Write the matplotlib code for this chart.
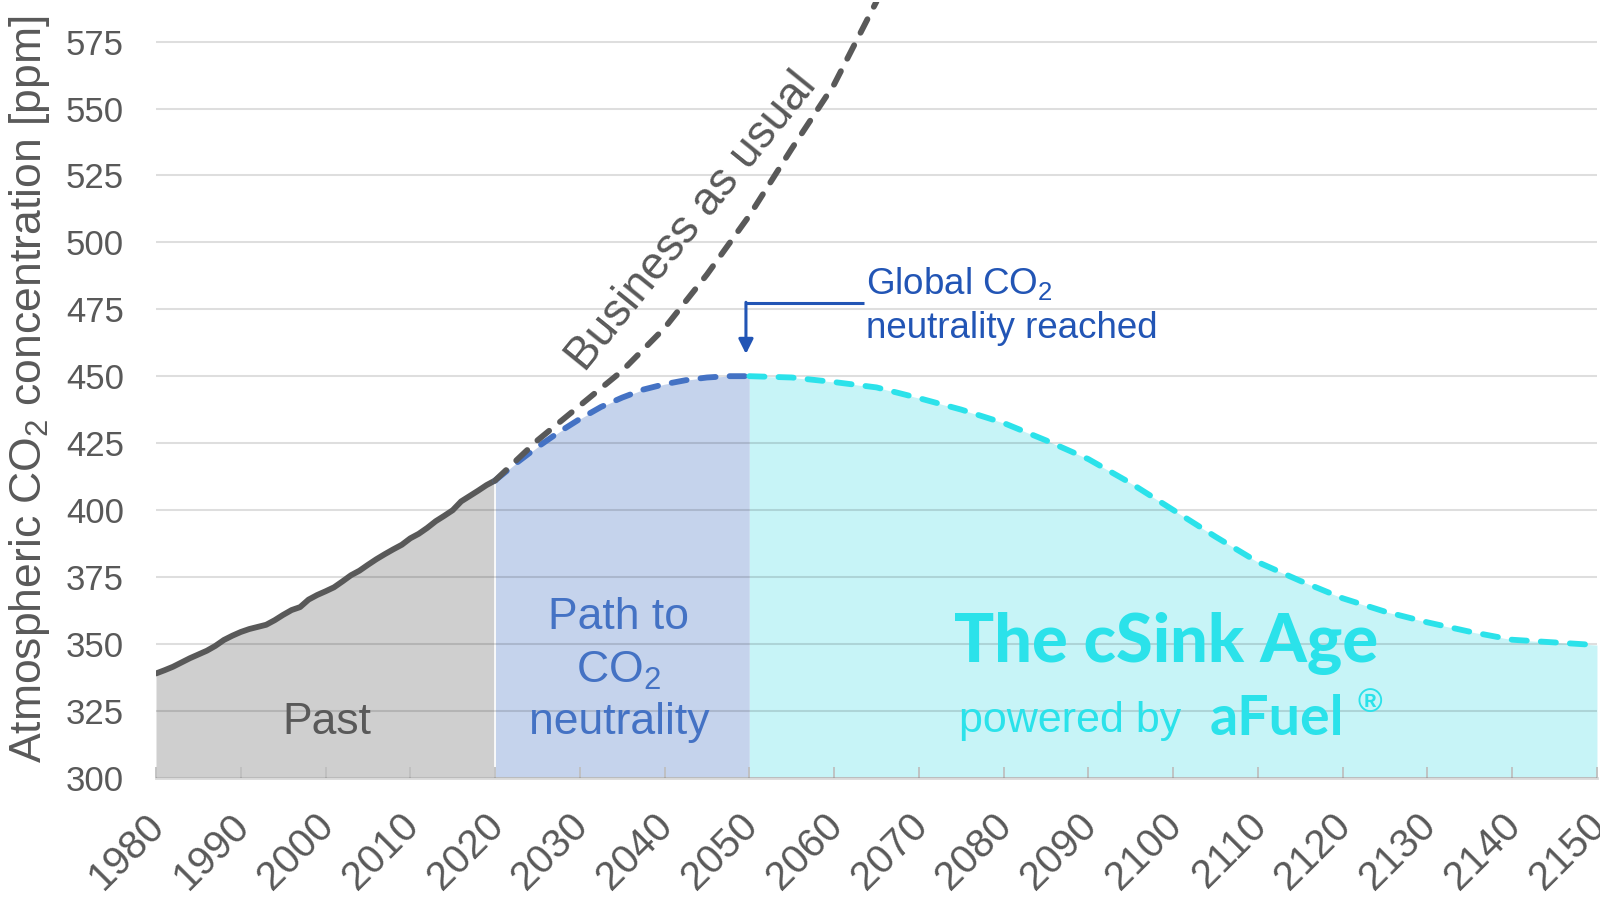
import matplotlib.pyplot as plt
from matplotlib.transforms import ScaledTranslation

plt.rcParams['font.family'] = ['Liberation Sans', 'DejaVu Sans']

# measured CO2 (ppm), 1980-2020
past_years = list(range(1980, 2021))
past_ppm = [338.9, 340.1, 341.4, 343.0, 344.6, 346.0, 347.4, 349.2, 351.4, 353.0,
            354.4, 355.5, 356.3, 357.1, 358.8, 360.8, 362.6, 363.7, 366.5, 368.2,
            369.6, 371.1, 373.3, 375.6, 377.3, 379.5, 381.6, 383.5, 385.3, 387.0,
            389.4, 391.1, 393.3, 395.8, 397.8, 399.9, 403.2, 405.2, 407.2, 409.3, 411.0]

# business as usual
bau_years = [2020, 2025, 2030, 2035, 2040, 2045, 2050, 2055, 2060, 2065]
bau_ppm = [411.0, 426.0, 439.0, 452.0, 468.0, 488.0, 510.0, 535.0, 559.0, 590.0]

# path to neutrality
path_years = [2020, 2022.5, 2025, 2027.5, 2030, 2032.5, 2035, 2037.5, 2040, 2042.5, 2045, 2047.5, 2050]
path_ppm = [411.0, 417.5, 423.5, 429.0, 434.0, 438.5, 442.0, 445.0, 447.0, 448.5, 449.5, 450.0, 450.0]

# cSink age
csink_years = [2050, 2055, 2060, 2065, 2070, 2075, 2080, 2085, 2090, 2095, 2100,
               2105, 2110, 2115, 2120, 2125, 2130, 2135, 2140, 2145, 2150]
csink_ppm = [450.0, 449.5, 447.8, 445.8, 441.8, 437.5, 432.5, 426.0, 419.0, 410.0, 400.0,
             390.0, 380.5, 373.5, 367.0, 362.0, 358.0, 354.5, 351.5, 350.5, 349.5]

y_ticks = [300, 325, 350, 375, 400, 425, 450, 475, 500, 525, 550, 575]
x_ticks = list(range(1980, 2151, 10))

GREY = '#595959'
BLUE = '#4472C4'
CYAN = '#2BE2EA'
DARKBLUE = '#2255B5'

fig = plt.figure(figsize=(16, 9.01), dpi=100)
ax = fig.add_axes([0.0975, 0.137, 0.9006, 0.8613])

# shaded eras
ax.fill_between(past_years, 300, past_ppm, color='#CFCFCF', lw=0, zorder=1)
ax.fill_between(path_years, 300, path_ppm, color='#C5D3EC', lw=0, zorder=1)
ax.fill_between(csink_years, 300, csink_ppm, color='#C7F4F7', lw=0, zorder=1)
ax.plot([2020, 2020], [300, past_ppm[-1]], color='white', lw=1.2, zorder=1.5)

lw = 4.2
dash = (2.6, 2.4)
ax.plot(past_years, past_ppm, color=GREY, lw=lw, zorder=4, solid_capstyle='round')
ax.plot(path_years, path_ppm, color=BLUE, lw=lw, dashes=dash, dash_capstyle='round', zorder=4)
ax.plot(csink_years, csink_ppm, color=CYAN, lw=lw, dashes=dash, dash_capstyle='round', zorder=4)
ax.plot(bau_years, bau_ppm, color=GREY, lw=lw, dashes=dash, dash_capstyle='round', zorder=5)

# axes styling
ax.set_xlim(1980, 2150)
ax.set_ylim(300, 590)
ax.set_axisbelow(False)
ax.yaxis.grid(True, color='black', alpha=0.13, lw=1.5)
for s in ['top', 'right', 'left']:
    ax.spines[s].set_visible(False)
ax.spines['bottom'].set_color('#D9D9D9')
ax.spines['bottom'].set_linewidth(2)

ax.set_yticks(y_ticks)
ax.tick_params(axis='y', labelsize=25, labelcolor=GREY, pad=23, length=0)
ax.set_xticks(x_ticks)
ax.tick_params(axis='x', labelsize=29, labelcolor=GREY, direction='in',
               length=8, width=1.3, color='#BFBFBF', pad=21)
shift = ScaledTranslation(-0.11, 0, fig.dpi_scale_trans)
for lbl in ax.get_xticklabels():
    lbl.set_rotation(45)
    lbl.set_ha('right')
    lbl.set_va('top')
    lbl.set_rotation_mode('anchor')
    lbl.set_transform(lbl.get_transform() + shift)

ax.set_ylabel('Atmospheric CO$_\\mathregular{2}$ concentration [ppm]',
              fontsize=32, color=GREY, labelpad=10)

# labels
ax.text(2000.2, 320.5, 'Past', fontsize=32, color=GREY, ha='center', va='center', zorder=6)
ax.text(2034.6, 360.0, 'Path to', fontsize=32, color=BLUE, ha='center', va='center', zorder=6)
ax.text(2034.6, 339.8, 'CO$_\\mathregular{2}$', fontsize=32, color=BLUE, ha='center', va='center', zorder=6)
ax.text(2034.6, 320.5, 'neutrality', fontsize=32, color=BLUE, ha='center', va='center', zorder=6)

ax.text(2099.2, 350.0, 'The cSink Age', fontsize=48, color=CYAN, fontfamily='Lato',
        fontweight='black', ha='center', va='center', zorder=6)
ax.text(2074.7, 321, 'powered by', fontsize=31, color=CYAN, ha='left', va='center', zorder=6)
ax.text(2104.3, 322, 'aFuel', fontsize=40, color=CYAN, fontfamily='Lato',
        fontweight='bold', ha='left', va='center', zorder=6)
ax.text(2121.8, 327.5, '®', fontsize=24, color=CYAN, fontweight='bold',
        ha='left', va='center', zorder=6)

ax.text(2043.2, 507.6, 'Business as usual', fontsize=33, color=GREY, rotation=51,
        rotation_mode='anchor', ha='center', va='center', zorder=6)

# neutrality annotation
ax.text(2063.8, 484.4, 'Global CO$_\\mathregular{2}$', fontsize=26.5, color=DARKBLUE,
        ha='left', va='center', zorder=6)
ax.text(2063.8, 468.0, 'neutrality reached', fontsize=26.5, color=DARKBLUE,
        ha='left', va='center', zorder=6)
ax.plot([2063.5, 2049.6], [477.4, 477.4], color=DARKBLUE, lw=2.2, zorder=6,
        solid_capstyle='butt')
ax.annotate('', xy=(2049.6, 458.3), xytext=(2049.6, 477.6),
            arrowprops=dict(arrowstyle='-|>', color=DARKBLUE, lw=2.2,
                            mutation_scale=22, shrinkA=0, shrinkB=0), zorder=6)

fig.savefig('out.png', dpi=100)
